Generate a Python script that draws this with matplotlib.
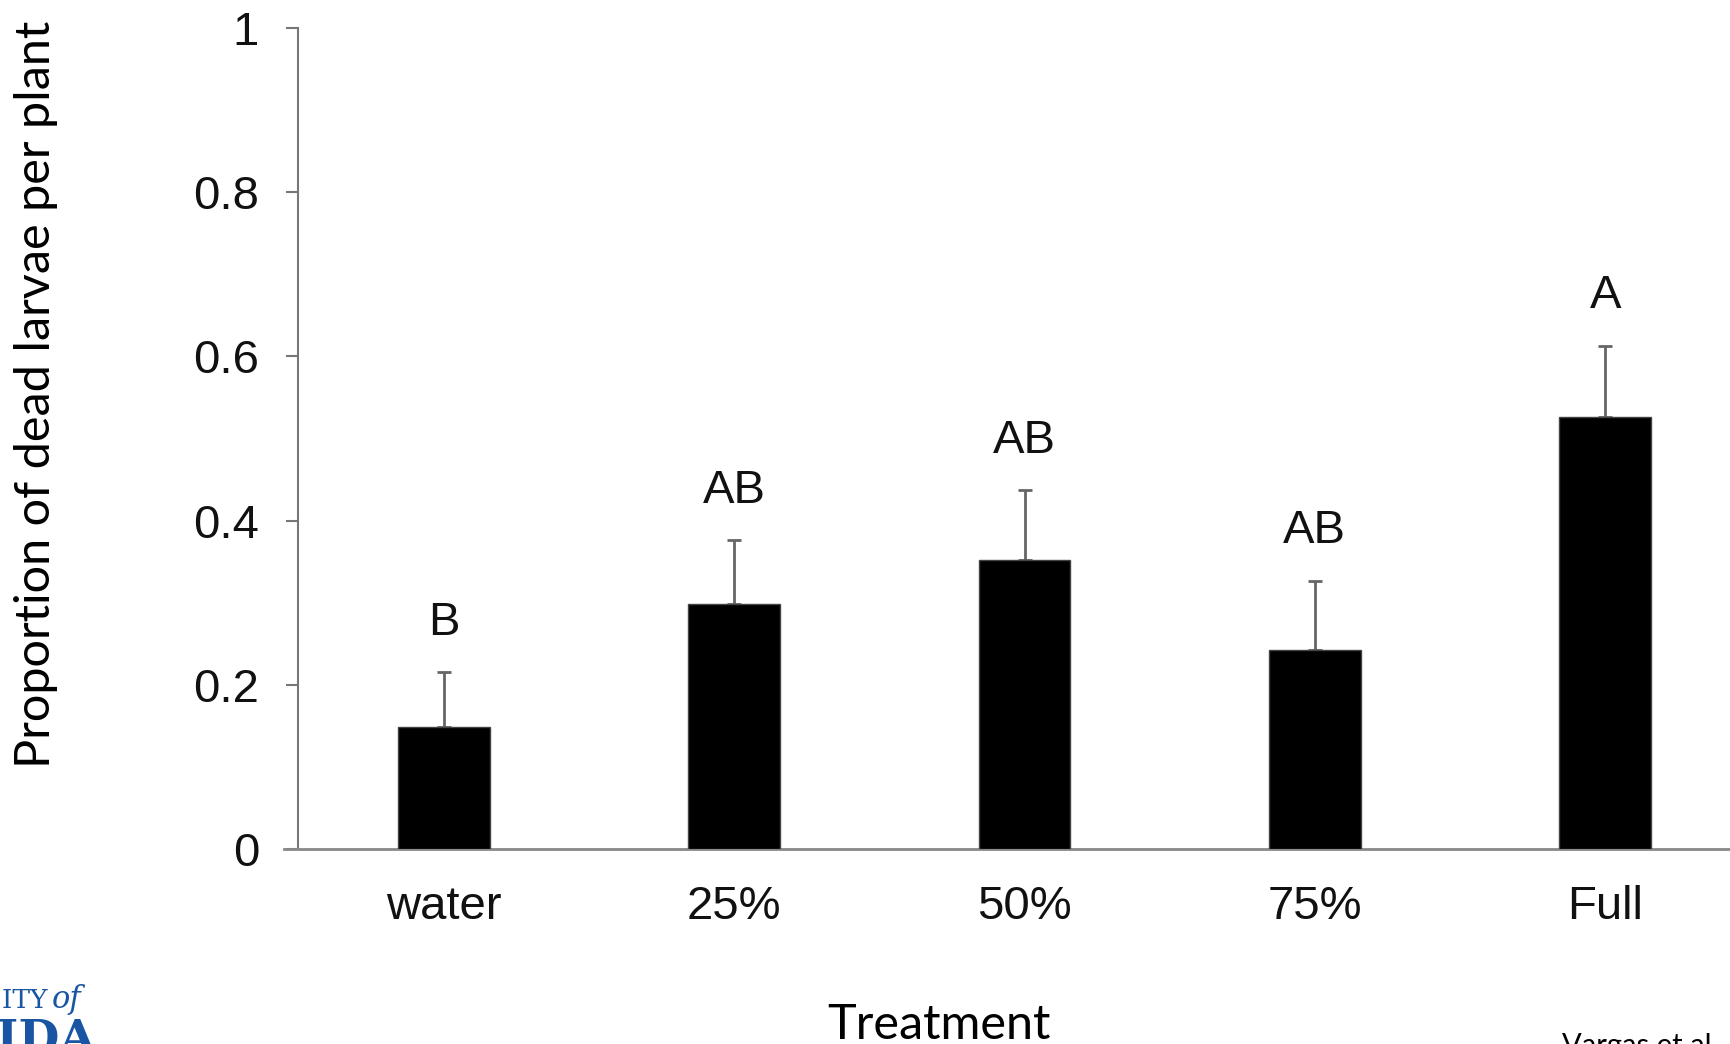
import matplotlib
matplotlib.use("Agg")
import matplotlib.pyplot as plt
import numpy as np

# data
treatments = ["water", "25%", "50%", "75%", "Full"]
means = [0.148, 0.298, 0.352, 0.242, 0.526]
errs = [0.067, 0.078, 0.085, 0.085, 0.087]
groups = ["B", "AB", "AB", "AB", "A"]
yticks = [0, 0.2, 0.4, 0.6, 0.8, 1]
ytick_labels = ["0", "0.2", "0.4", "0.6", "0.8", "1"]

W, H = 1731, 1044
fig = plt.figure(figsize=(W / 100, H / 100), dpi=100)
fig.patch.set_facecolor("white")

# axes box in pixels: left 298, right 1731, top 28, bottom 849
ax = fig.add_axes([298 / W, 1 - 849 / H, (W - 298) / W, (849 - 28) / H])

x = np.arange(len(treatments))
ax.bar(x, means, width=0.316, color="black", edgecolor="#444444", linewidth=1, zorder=3)
ax.errorbar(x, means, yerr=[np.zeros(len(errs)), errs], fmt="none",
            ecolor="#666666", elinewidth=2, capsize=5, capthick=2, zorder=2)

for xi, m, e, g in zip(x, means, errs, groups):
    ax.text(xi, m + e + 0.06, g, ha="center", va="center",
            fontsize=34, family="Liberation Sans", color="#111111")

ax.set_xlim(-0.502, 4.433)
ax.set_ylim(0, 1)
ax.set_yticks(yticks)
ax.set_yticklabels(ytick_labels, family="Liberation Sans", fontsize=34, color="#111111")
ax.set_xticks(x)
ax.set_xticklabels(treatments, family="Liberation Sans", fontsize=34, color="#111111")

for s in ["top", "right"]:
    ax.spines[s].set_visible(False)
ax.spines["left"].set_color("#777777")
ax.spines["left"].set_linewidth(1.5)
ax.spines["bottom"].set_color("#888888")
ax.spines["bottom"].set_linewidth(2)
ax.spines["bottom"].set_bounds(-0.55, 4.433)
ax.tick_params(axis="y", direction="out", length=9, width=1.5, color="#777777", pad=19)
ax.tick_params(axis="x", length=0, pad=26)
ax.patch.set_alpha(0)

fig.text(36 / W, 1 - 394 / H, "Proportion of dead larvae per plant", rotation=90,
         ha="center", va="center", fontsize=35, family="Lato", color="black")
fig.text(939 / W, 1 - 1025 / H, "Treatment", ha="center", va="center",
         fontsize=35, family="Lato", color="black")
fig.text(1562 / W, 1 - 1033 / H, "Vargas et al.", ha="left", va="top",
         fontsize=21, family="Lato", color="black")

# cropped University of Florida logo at the bottom-left corner
fig.text(48 / W, 1 - 1008 / H, "UNIVERSITY", ha="right", va="baseline",
         fontsize=19, family="DejaVu Serif", color="#1a55a3")
fig.text(52 / W, 1 - 1008 / H, "of", ha="left", va="baseline",
         fontsize=22, family="DejaVu Serif", style="italic", color="#1a55a3")
fig.text(97 / W, 1 - 1040 / H, "FLORIDA", ha="right", va="center",
         fontsize=34, family="DejaVu Serif", weight="bold", color="#1a55a3")

fig.savefig("out.png", dpi=100)
